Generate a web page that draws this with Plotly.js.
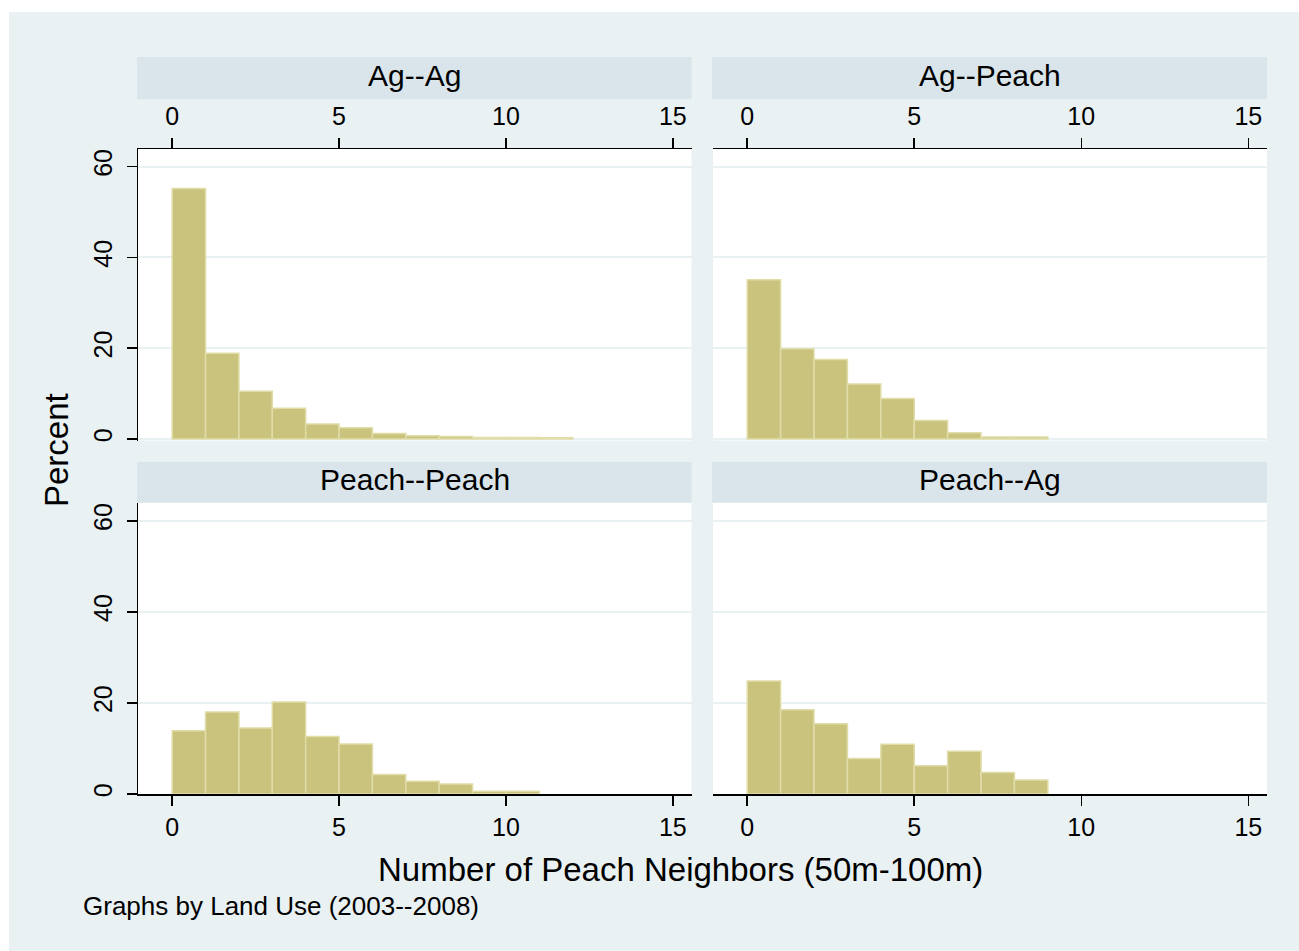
<!DOCTYPE html>
<html>
<head>
<meta charset="utf-8">
<script src="https://cdn.plot.ly/plotly-3.0.1.min.js"></script>
<style>
  html, body { margin: 0; padding: 0; background: #ffffff; }
  #chart { width: 1299px; height: 951px; }
</style>
</head>
<body>
<div id="chart"></div>
<script>
// Percent of parcels by number of peach neighbours (bins of width 1, starting at 0)
const panelTitles = ["Ag--Ag", "Ag--Peach", "Peach--Peach", "Peach--Ag"];
const agAg        = [55.2, 18.9, 10.5, 6.8, 3.3, 2.5, 1.2, 0.7, 0.55, 0.35, 0.35, 0.3];
const agPeach     = [35.1, 19.9, 17.5, 12.1, 8.9, 4.1, 1.4, 0.45, 0.45];
const peachPeach  = [13.9, 18.0, 14.5, 20.2, 12.6, 11.0, 4.3, 2.8, 2.2, 0.6, 0.6];
const peachAg     = [24.8, 18.5, 15.4, 7.8, 10.9, 6.2, 9.4, 4.7, 3.1];
const xTicks = [0, 5, 10, 15];
const yTicks = [0, 20, 40, 60];
const xTitle = "Number of Peach Neighbors (50m-100m)";
const yTitle = "Percent";
const noteText = "Graphs by Land Use (2003--2008)";

const W = 1299, H = 951;
const px = v => v / W;           // pixel -> paper x
const py = v => 1 - v / H;       // pixel -> paper y

const FONT = "Liberation Sans, Arial, Helvetica, sans-serif";
const BG = "#e9f1f3";
const STRIP = "#d9e5ea";
const GRID = "#e9f1f3";
const BAR_FILL = "#c9c37e";
const BAR_LINE = "#e1dda9";

const series = [agAg, agPeach, peachPeach, peachAg];
const axisIds = [["x", "y"], ["x2", "y2"], ["x3", "y3"], ["x4", "y4"]];

const traces = series.map((vals, i) => ({
  type: "bar",
  x: vals.map((_, k) => k + 0.5),
  y: vals,
  width: vals.map(() => 1),
  xaxis: axisIds[i][0],
  yaxis: axisIds[i][1],
  marker: { color: BAR_FILL, line: { color: BAR_LINE, width: 1.5 } },
  hoverinfo: "skip",
  showlegend: false
}));

// panel geometry in pixels
const colX = [[138, 691.5], [713, 1267]];
const rowY = [[149, 440.5], [503, 794]];

function xAxis(col, row) {
  return {
    domain: [px(colX[col][0]), px(colX[col][1])],
    range: [-1.024, 15.56],
    side: row === 0 ? "top" : "bottom",
    tickvals: xTicks,
    ticktext: xTicks.map(String),
    ticks: "outside",
    ticklen: 10,
    tickwidth: 1.5,
    tickcolor: "#000",
    ticklabelstandoff: row === 0 ? 3 : 0,
    showline: true,
    linecolor: "#000",
    linewidth: 1.5,
    showgrid: false,
    zeroline: false,
    tickfont: { family: FONT, size: 25, color: "#000" },
    fixedrange: true
  };
}

function yAxis(col, row) {
  const a = {
    domain: [py(rowY[row][1]), py(rowY[row][0])],
    range: row === 0 ? [-0.33, 63.9] : [0, 63.9],
    tickvals: yTicks,
    ticktext: yTicks.map(String),
    showgrid: true,
    gridcolor: GRID,
    gridwidth: 2,
    zeroline: false,
    fixedrange: true,
    tickfont: { family: FONT, size: 25, color: "#000" }
  };
  if (col === 0) {
    Object.assign(a, {
      ticks: "outside", ticklen: 10, tickwidth: 1.5, tickcolor: "#000",
      showline: true, linecolor: "#000", linewidth: 1.5,
      tickangle: -90, showticklabels: true, ticklabelstandoff: 5
    });
  } else {
    Object.assign(a, { ticks: "", showline: false, showticklabels: false });
  }
  return a;
}

const shapes = [
  // white edge around the graph region
  { type: "rect", xref: "paper", yref: "paper", x0: 0, x1: 1, y0: py(12), y1: 1,
    fillcolor: "#ffffff", line: { width: 0 }, layer: "below" },
  { type: "rect", xref: "paper", yref: "paper", x0: 0, x1: px(9), y0: 0, y1: 1,
    fillcolor: "#ffffff", line: { width: 0 }, layer: "below" }
];
const stripRows = [[57, 99.3], [462, 502.5]];
const annotations = [];
for (let r = 0; r < 2; r++) {
  for (let c = 0; c < 2; c++) {
    shapes.push({
      type: "rect", xref: "paper", yref: "paper",
      x0: px(colX[c][0] - 1), x1: px(colX[c][1]),
      y0: py(stripRows[r][1]), y1: py(stripRows[r][0]),
      fillcolor: STRIP, line: { width: 0 }, layer: "below"
    });
    annotations.push({
      xref: "paper", yref: "paper",
      x: px((colX[c][0] + colX[c][1]) / 2),
      y: py((stripRows[r][0] + stripRows[r][1]) / 2 - 3),
      xanchor: "center", yanchor: "middle",
      text: panelTitles[r * 2 + c], showarrow: false,
      font: { family: FONT, size: 30, color: "#000" }
    });
  }
}
annotations.push({
  xref: "paper", yref: "paper", x: px(680), y: py(869),
  xanchor: "center", yanchor: "middle", text: xTitle, showarrow: false,
  font: { family: FONT, size: 33, color: "#000" }
});
annotations.push({
  xref: "paper", yref: "paper", x: px(57), y: py(450),
  xanchor: "center", yanchor: "middle", text: yTitle, textangle: -90, showarrow: false,
  font: { family: FONT, size: 33, color: "#000" }
});
annotations.push({
  xref: "paper", yref: "paper", x: px(81), y: py(906),
  xanchor: "left", yanchor: "middle", text: noteText, showarrow: false,
  font: { family: FONT, size: 26, color: "#000" }
});

const layout = {
  width: W, height: H,
  margin: { l: 0, r: 0, t: 0, b: 0, pad: 0 },
  paper_bgcolor: BG,
  plot_bgcolor: "#ffffff",
  showlegend: false,
  bargap: 0,
  xaxis: Object.assign(xAxis(0, 0), { anchor: "y" }),
  yaxis: Object.assign(yAxis(0, 0), { anchor: "x" }),
  xaxis2: Object.assign(xAxis(1, 0), { anchor: "y2" }),
  yaxis2: Object.assign(yAxis(1, 0), { anchor: "x2" }),
  xaxis3: Object.assign(xAxis(0, 1), { anchor: "y3" }),
  yaxis3: Object.assign(yAxis(0, 1), { anchor: "x3" }),
  xaxis4: Object.assign(xAxis(1, 1), { anchor: "y4" }),
  yaxis4: Object.assign(yAxis(1, 1), { anchor: "x4" }),
  shapes: shapes,
  annotations: annotations
};

Plotly.newPlot("chart", traces, layout, { staticPlot: true, displayModeBar: false });
</script>
</body>
</html>
